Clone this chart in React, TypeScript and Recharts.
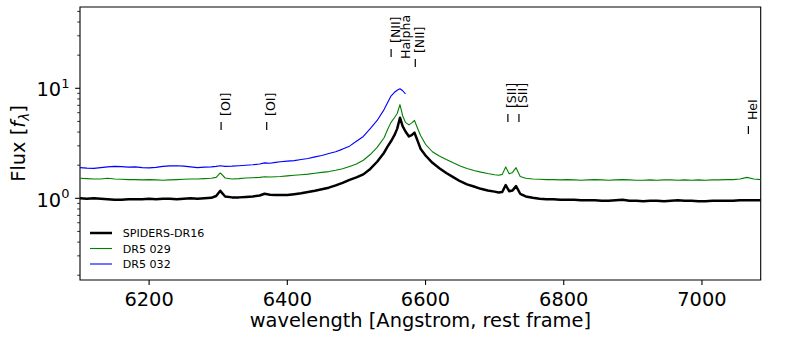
import React from 'react';
import { ComposedChart, Line, Scatter, XAxis, YAxis, ReferenceArea, Legend } from 'recharts';

const wavelengths = [
  6100, 6110, 6120, 6130, 6140, 6150, 6160, 6170, 6180, 6190,
  6200, 6210, 6220, 6230, 6240, 6250, 6260, 6270, 6280, 6290,
  6297, 6303, 6310, 6320, 6330, 6340, 6350, 6360, 6367, 6375,
  6383, 6390, 6400, 6410, 6420, 6430, 6440, 6450, 6460, 6470,
  6480, 6490, 6500, 6510, 6520, 6530, 6540, 6545, 6550, 6555,
  6559, 6563, 6567, 6571, 6576, 6580, 6584, 6588, 6593, 6600,
  6610, 6620, 6630, 6640, 6650, 6660, 6670, 6680, 6690, 6700,
  6706, 6711, 6716, 6721, 6726, 6731, 6737, 6745, 6755, 6765,
  6775, 6785, 6795, 6805, 6815, 6825, 6835, 6845, 6855, 6865,
  6875, 6885, 6895, 6905, 6915, 6925, 6935, 6945, 6955, 6965,
  6975, 6985, 6995, 7005, 7015, 7025, 7035, 7045, 7055, 7065,
  7075, 7085,
];

const spidersFlux = [
  1.00, 0.99, 1.00, 0.99, 0.98, 0.97, 0.97, 0.98, 0.98, 0.98,
  0.99, 0.98, 0.99, 0.99, 0.98, 0.99, 1.00, 0.99, 1.00, 1.01,
  1.05, 1.17, 1.04, 1.02, 1.02, 1.03, 1.04, 1.06, 1.10, 1.08,
  1.07, 1.07, 1.07, 1.09, 1.11, 1.14, 1.17, 1.21, 1.25, 1.31,
  1.38, 1.47, 1.55, 1.65, 1.85, 2.15, 2.60, 2.95, 3.30, 3.75,
  4.30, 5.40, 4.50, 4.05, 3.65, 3.75, 3.95, 3.40, 2.80, 2.45,
  2.10, 1.88, 1.70, 1.56, 1.43, 1.34, 1.28, 1.22, 1.18, 1.15,
  1.13, 1.14, 1.32, 1.16, 1.18, 1.29, 1.10, 1.04, 1.01, 0.99,
  0.98, 0.98, 0.97, 0.97, 0.97, 0.96, 0.96, 0.96, 0.95, 0.95,
  0.96, 0.97, 0.95, 0.95, 0.94, 0.95, 0.95, 0.94, 0.95, 0.96,
  0.95, 0.95, 0.94, 0.94, 0.95, 0.95, 0.95, 0.95, 0.96, 0.96,
  0.96, 0.96,
];

const dr5029Flux = [
  1.52, 1.51, 1.50, 1.50, 1.52, 1.50, 1.49, 1.48, 1.48, 1.47,
  1.48, 1.47, 1.46, 1.47, 1.48, 1.49, 1.50, 1.50, 1.51, 1.52,
  1.55, 1.70, 1.53, 1.50, 1.51, 1.53, 1.54, 1.55, 1.57, 1.56,
  1.57, 1.58, 1.60, 1.62, 1.64, 1.66, 1.69, 1.72, 1.75, 1.80,
  1.86, 1.95, 2.05, 2.22, 2.50, 2.90, 3.55, 4.20, 4.90, 5.40,
  5.90, 7.10, 5.60, 4.90, 4.65, 4.85, 5.10, 4.40, 3.70, 3.10,
  2.65, 2.42, 2.25, 2.10, 1.97, 1.87, 1.79, 1.73, 1.68, 1.64,
  1.62, 1.65, 1.93, 1.67, 1.72, 1.90, 1.58, 1.52, 1.50, 1.49,
  1.48, 1.48, 1.47, 1.48, 1.47, 1.46, 1.47, 1.48, 1.47, 1.46,
  1.47, 1.48, 1.47, 1.46, 1.46, 1.47, 1.46, 1.47, 1.47, 1.46,
  1.47, 1.46, 1.47, 1.46, 1.47, 1.47, 1.48, 1.48, 1.50, 1.55,
  1.50, 1.48,
];

const dr5032Flux = [
  1.90, 1.88, 1.87, 1.90, 1.93, 1.95, 1.94, 1.92, 1.93, 1.90,
  1.89, 1.91, 1.95, 1.97, 1.98, 1.96, 1.93, 1.90, 1.92, 1.93,
  1.95, 1.98, 1.95, 1.96, 1.98, 2.00, 2.02, 2.05, 2.10, 2.08,
  2.12, 2.15, 2.18, 2.20, 2.25, 2.30, 2.38, 2.45, 2.55, 2.65,
  2.80, 2.98, 3.30, 3.65, 4.30, 5.10, 6.40, 7.40, 8.50, 9.20,
  9.60, 9.90, 9.50, 8.90, null, null, null, null, null, null,
  null, null, null, null, null, null, null, null, null, null,
  null, null, null, null, null, null, null, null, null, null,
  null, null, null, null, null, null, null, null, null, null,
  null, null, null, null, null, null, null, null, null, null,
  null, null, null, null, null, null, null, null, null, null,
  null, null,
];

const seriesKeys = ['spiders', 'dr5029', 'dr5032'];
const seriesNames = ['SPIDERS-DR16', 'DR5 029', 'DR5 032'];
const seriesColors = ['#000000', '#008000', '#0000ff'];
const seriesWidths = [2.5, 1.1, 1.1];

const lineNames = ['[OI]', '[OI]', '[NII]', 'Halpha', '[NII]', '[SII]', '[SII]', 'HeI'];
const lineWavelengths = [6302, 6368, 6548, 6563, 6583, 6717, 6733, 7065];
const lineLabelFlux = [4.18, 4.18, 19.25, 13.77, 15.6, 4.94, 4.94, 3.84];
const lineHasTick = [true, true, true, false, true, true, true, true];

const xTicks = [6200, 6400, 6600, 6800, 7000];
const yTicks = [0.2, 0.3, 0.4, 0.5, 0.6, 0.7, 0.8, 0.9, 1, 2, 3, 4, 5, 6, 7, 8, 9, 10, 20, 30, 40, 50];
const yMajorTicks = [1, 10];
const yMajorExponents = ['0', '1'];

const xDomain = [6100, 7085];
const yDomain = [0.181, 54.8];

const FONT = 'DejaVu Sans';

const rows = wavelengths.map((w, i) => ({
  wl: w,
  spiders: spidersFlux[i],
  dr5029: dr5029Flux[i],
  dr5032: dr5032Flux[i],
}));

const labelRows = lineWavelengths.map((w, i) => ({
  wl: w,
  labelY: lineLabelFlux[i],
  name: lineNames[i],
  tick: lineHasTick[i],
}));

const LabelShape = (props: any) => {
  const { cx, cy, payload } = props;
  if (cx == null || cy == null) return <g />;
  const tx = cx + 1.5;
  const bx = cx + 10;
  const sy = cy - 14;
  return (
    <g>
      {payload.tick && (
        <line x1={tx} x2={tx} y1={cy} y2={cy - 8} stroke="#000" strokeWidth={1.2} />
      )}
      <text
        x={bx}
        y={sy}
        transform={`rotate(-90, ${bx}, ${sy})`}
        fontSize={12.5}
        fontFamily={FONT}
        fill="#000"
      >
        {payload.name}
      </text>
    </g>
  );
};

const XTick = (props: any) => {
  const { x, y, payload } = props;
  return (
    <g>
      <line x1={x} x2={x} y1={y} y2={y + 4.9} stroke="#000" strokeWidth={1.1} />
      <text x={x} y={y + 25.5} textAnchor="middle" fontSize={19.4} fontFamily={FONT} fill="#000">
        {payload.value}
      </text>
    </g>
  );
};

const YTick = (props: any) => {
  const { x, y, payload } = props;
  const v = payload.value;
  const mi = yMajorTicks.indexOf(v);
  const major = mi >= 0;
  const len = major ? 4.9 : 2.8;
  return (
    <g>
      <line x1={x - len} x2={x} y1={y} y2={y} stroke="#000" strokeWidth={major ? 1.1 : 0.8} />
      {major && (
        <text x={x - 10.5} y={y + 8.2} textAnchor="end" fontFamily={FONT} fontSize={19.4} fill="#000">
          <tspan>10</tspan>
          <tspan dy={-8.5} fontSize={13}>{yMajorExponents[mi]}</tspan>
        </text>
      )}
    </g>
  );
};

const XTitle = (props: any) => {
  const vb = props.viewBox || { x: 80, y: 280, width: 680.7, height: 50 };
  return (
    <text
      x={vb.x + vb.width / 2}
      y={vb.y + 47}
      textAnchor="middle"
      fontSize={19.4}
      fontFamily={FONT}
      fill="#000"
    >
      wavelength [Angstrom, rest frame]
    </text>
  );
};

const YTitle = (props: any) => {
  const vb = props.viewBox || { x: 10, y: 7, width: 70, height: 273 };
  const cy = vb.y + vb.height / 2;
  const bx = vb.x + 15;
  return (
    <text
      transform={`rotate(-90, ${bx}, ${cy})`}
      x={bx}
      y={cy}
      textAnchor="middle"
      fontSize={19.4}
      fontFamily={FONT}
      fill="#000"
    >
      Flux [<tspan fontStyle="italic">f</tspan>
      <tspan fontSize={13.5} fontStyle="italic" dy={4}>λ</tspan>
      <tspan dy={-4}>]</tspan>
    </text>
  );
};

const LegendBox = (props: any) => {
  const payload = (props.payload || []).filter((p: any) => seriesNames.includes(p.value));
  return (
    <svg width={170} height={54}>
      {payload.map((p: any) => {
        const i = seriesNames.indexOf(p.value);
        const cy = 13 + 15.5 * i;
        return (
          <g key={p.value}>
            <line x1={10} x2={32} y1={cy} y2={cy} stroke={seriesColors[i]} strokeWidth={seriesWidths[i]} />
            <text x={42.7} y={cy + 4} fontSize={11.1} fontFamily={FONT} fill="#000">
              {p.value}
            </text>
          </g>
        );
      })}
    </svg>
  );
};

export default function App() {
  return (
    <div style={{ position: 'absolute', left: 0, top: 0, width: 800, height: 350, background: '#fff' }}>
      <ComposedChart
        width={800}
        height={350}
        data={rows}
        margin={{ top: 7, right: 39.3, bottom: 20, left: 10 }}
      >
        <XAxis
          dataKey="wl"
          type="number"
          domain={xDomain}
          allowDataOverflow
          ticks={xTicks}
          interval={0}
          tick={(p: any) => <XTick {...p} />}
          tickLine={false}
          tickSize={0}
          tickMargin={0}
          axisLine={false}
          height={50}
          label={(p: any) => <XTitle {...p} />}
        />
        <YAxis
          type="number"
          scale="log"
          domain={yDomain}
          allowDataOverflow
          ticks={yTicks}
          interval={0}
          tick={(p: any) => <YTick {...p} />}
          tickLine={false}
          tickSize={0}
          tickMargin={0}
          axisLine={false}
          width={70}
          label={(p: any) => <YTitle {...p} />}
        />
        <ReferenceArea
          x1={xDomain[0]}
          x2={xDomain[1]}
          y1={yDomain[0]}
          y2={yDomain[1]}
          fill="none"
          fillOpacity={0}
          stroke="#000"
          strokeWidth={1.1}
          ifOverflow="visible"
        />
        {seriesKeys.map((k, i) => (
          <Line
            key={k}
            dataKey={k}
            name={seriesNames[i]}
            stroke={seriesColors[i]}
            strokeWidth={seriesWidths[i]}
            dot={false}
            activeDot={false}
            isAnimationActive={false}
            connectNulls={false}
            type="linear"
            strokeLinejoin="round"
          />
        ))}
        <Scatter
          data={labelRows}
          dataKey="labelY"
          name="lines"
          shape={(p: any) => <LabelShape {...p} />}
          isAnimationActive={false}
          legendType="none"
        />
        <Legend
          layout="vertical"
          align="center"
          verticalAlign="middle"
          content={(p: any) => <LegendBox {...p} />}
          wrapperStyle={{ left: 80, top: 220.3, width: 170, height: 54 }}
        />
      </ComposedChart>
    </div>
  );
}
